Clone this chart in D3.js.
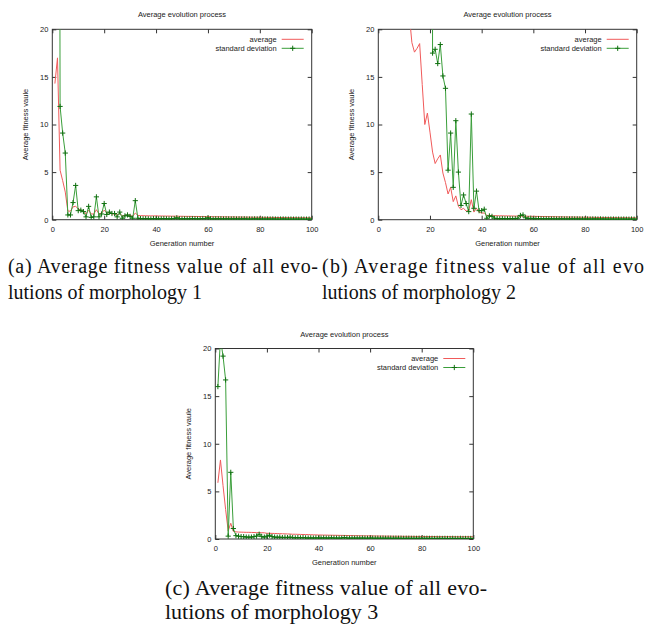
<!DOCTYPE html>
<html>
<head>
<meta charset="utf-8">
<script src="https://cdn.jsdelivr.net/npm/d3@7"></script>
<style>
  body { margin: 0; background: #fff; }
  .tick text, .lbl { font-family: "Liberation Sans", Arial, sans-serif; font-size: 7.5px; fill: #222; }
  .caption { font-family: "Liberation Serif", "Times New Roman", serif; fill: #111; }
</style>
</head>
<body>
<svg id="fig" width="645" height="625"></svg>
<script>
// generation index on the x axis
const generations = d3.range(1, 101);
const xTicks = [0, 20, 40, 60, 80, 100];
const yTicks = [0, 5, 10, 15, 20];
const seriesNames = ["average", "standard deviation"];

// morphology 1 (values above 20 are clipped by the plot frame)
const avgM1 = [
  14.3, 17.0, 5.2, 4.1, 2.9, 0.9, 0.9, 1.35, 1.4, 1.15,
  1.0, 0.95, 0.6, 1.0, 0.6, 0.6, 1.05, 0.6, 0.7, 1.0,
  0.7, 0.75, 0.6, 0.6, 0.5, 0.65, 0.4, 0.45, 0.5, 0.45,
  0.35, 0.7, 0.45, 0.42, 0.42, 0.41, 0.41, 0.4, 0.4, 0.4,
  0.39, 0.39, 0.38, 0.38, 0.38, 0.37, 0.37, 0.37, 0.36, 0.36,
  0.35, 0.35, 0.35, 0.34, 0.34, 0.34, 0.33, 0.33, 0.33, 0.32,
  0.32, 0.31, 0.31, 0.31, 0.3, 0.3, 0.3, 0.29, 0.29, 0.29,
  0.28, 0.28, 0.28, 0.27, 0.27, 0.27, 0.26, 0.26, 0.26, 0.25,
  0.25, 0.25, 0.24, 0.24, 0.24, 0.23, 0.23, 0.23, 0.23, 0.22,
  0.22, 0.22, 0.22, 0.21, 0.21, 0.21, 0.21, 0.2, 0.2, 0.2
];
const sdM1 = [
  120, 160, 11.9, 9.1, 7.0, 0.5, 0.5, 1.8, 3.6, 0.95,
  1.0, 0.85, 0.3, 1.4, 0.25, 0.3, 2.4, 0.3, 0.6, 1.7,
  0.55, 0.8, 0.65, 0.65, 0.3, 0.8, 0.15, 0.4, 0.5, 0.35,
  0.15, 2.0, 0.15, 0.12, 0.1, 0.12, 0.1, 0.08, 0.12, 0.1,
  0.09, 0.1, 0.12, 0.1, 0.08, 0.1, 0.12, 0.2, 0.1, 0.08,
  0.1, 0.09, 0.1, 0.12, 0.1, 0.08, 0.1, 0.12, 0.1, 0.2,
  0.1, 0.08, 0.1, 0.09, 0.1, 0.08, 0.1, 0.09, 0.08, 0.1,
  0.08, 0.09, 0.08, 0.1, 0.08, 0.07, 0.08, 0.09, 0.08, 0.07,
  0.08, 0.07, 0.08, 0.07, 0.08, 0.07, 0.06, 0.07, 0.08, 0.07,
  0.06, 0.07, 0.06, 0.07, 0.06, 0.07, 0.06, 0.06, 0.07, 0.06
];

// morphology 2
const avgM2 = [
  60, 55, 50, 46, 42, 39, 36, 33, 30, 27,
  24, 21.5, 18.6, 17.6, 18.0, 18.5, 14.2, 10.0, 11.2, 9.2,
  7.1, 5.9, 6.4, 6.8, 4.9, 3.9, 2.7, 3.4, 1.9, 2.5,
  1.4, 1.05, 1.2, 0.9, 1.0, 2.1, 0.8, 1.2, 0.8, 0.7,
  0.7, 0.45, 0.45, 0.43, 0.42, 0.42, 0.41, 0.41, 0.4, 0.4,
  0.39, 0.39, 0.38, 0.38, 0.38, 0.37, 0.37, 0.36, 0.36, 0.35,
  0.35, 0.34, 0.34, 0.33, 0.33, 0.32, 0.32, 0.31, 0.31, 0.3,
  0.3, 0.29, 0.29, 0.28, 0.28, 0.28, 0.27, 0.27, 0.26, 0.26,
  0.26, 0.25, 0.25, 0.24, 0.24, 0.24, 0.23, 0.23, 0.23, 0.22,
  0.22, 0.22, 0.21, 0.21, 0.21, 0.21, 0.2, 0.2, 0.2, 0.2
];
const sdM2 = [
  150, 150, 145, 140, 140, 135, 130, 130, 125, 120,
  120, 115, 110, 110, 105, 100, 100, 95, 90, 200,
  17.5, 17.9, 16.4, 18.4, 15.1, 13.8, 5.2, 9.1, 3.4, 10.4,
  5.0, 1.5, 2.6, 1.7, 0.85, 11.1, 1.2, 3.0, 0.95, 0.95,
  1.1, 0.15, 0.4, 0.35, 0.15, 0.12, 0.1, 0.12, 0.1, 0.1,
  0.12, 0.1, 0.12, 0.15, 0.45, 0.5, 0.2, 0.12, 0.15, 0.1,
  0.1, 0.12, 0.1, 0.09, 0.1, 0.1, 0.09, 0.1, 0.08, 0.09,
  0.1, 0.08, 0.09, 0.08, 0.1, 0.08, 0.09, 0.08, 0.08, 0.07,
  0.08, 0.07, 0.08, 0.08, 0.07, 0.08, 0.07, 0.07, 0.06, 0.07,
  0.07, 0.06, 0.07, 0.06, 0.07, 0.06, 0.06, 0.07, 0.06, 0.06
];

// morphology 3
const avgM3 = [
  5.9, 8.3, 5.6, 3.1, 0.85, 1.65, 0.8, 0.75, 0.73, 0.72,
  0.71, 0.7, 0.7, 0.69, 0.68, 0.67, 0.67, 0.66, 0.65, 0.6,
  0.6, 0.59, 0.58, 0.57, 0.56, 0.55, 0.54, 0.53, 0.52, 0.5,
  0.5, 0.49, 0.48, 0.47, 0.47, 0.46, 0.45, 0.44, 0.43, 0.42,
  0.42, 0.41, 0.41, 0.4, 0.4, 0.39, 0.39, 0.38, 0.38, 0.37,
  0.37, 0.36, 0.36, 0.35, 0.35, 0.34, 0.34, 0.33, 0.33, 0.33,
  0.32, 0.32, 0.31, 0.31, 0.31, 0.3, 0.3, 0.3, 0.29, 0.29,
  0.29, 0.29, 0.28, 0.28, 0.28, 0.28, 0.27, 0.27, 0.27, 0.27,
  0.26, 0.26, 0.26, 0.26, 0.26, 0.25, 0.25, 0.25, 0.25, 0.25,
  0.25, 0.25, 0.24, 0.24, 0.24, 0.24, 0.24, 0.24, 0.24, 0.24
];
const sdM3 = [
  16.0, 21.0, 19.2, 16.7, 0.3, 7.0, 1.1, 0.35, 0.3, 0.25,
  0.25, 0.2, 0.2, 0.2, 0.25, 0.3, 0.5, 0.25, 0.2, 0.3,
  0.4, 0.25, 0.2, 0.18, 0.2, 0.15, 0.18, 0.15, 0.2, 0.15,
  0.12, 0.15, 0.12, 0.15, 0.12, 0.1, 0.12, 0.1, 0.12, 0.1,
  0.1, 0.12, 0.1, 0.1, 0.12, 0.1, 0.1, 0.09, 0.1, 0.15,
  0.1, 0.09, 0.1, 0.09, 0.1, 0.09, 0.1, 0.09, 0.08, 0.1,
  0.09, 0.08, 0.09, 0.08, 0.09, 0.08, 0.09, 0.08, 0.08, 0.09,
  0.08, 0.08, 0.07, 0.08, 0.08, 0.07, 0.08, 0.07, 0.08, 0.07,
  0.07, 0.08, 0.07, 0.07, 0.06, 0.07, 0.07, 0.06, 0.07, 0.06,
  0.06, 0.07, 0.06, 0.06, 0.07, 0.06, 0.06, 0.06, 0.06, 0.06
];

var fig = {
    avgColor: "#f05a5a",
    sdColor: "#3a9e3a",
    markColor: "#107010",
    cross: "M-2.6,0H2.6M0,-2.6V2.6",

    panel: function(svg, box, avg, sd) {
        let x = d3.scaleLinear().domain([0, 100]).range([box.left, box.right]);
        let y = d3.scaleLinear().domain([0, 20]).range([box.bottom, box.top]);
        let g = svg.append("g");

        // title and axis labels
        g.append("text").attr("class", "lbl")
            .attr("x", (box.left + box.right) / 2).attr("y", box.top - 12)
            .attr("text-anchor", "middle").text("Average evolution process");
        g.append("text").attr("class", "lbl")
            .attr("x", (box.left + box.right) / 2).attr("y", box.bottom + 26)
            .attr("text-anchor", "middle").text("Generation number");
        g.append("text").attr("class", "lbl")
            .attr("transform", "translate(" + (box.left - 24) + "," + ((box.top + box.bottom) / 2) + ") rotate(-90)")
            .attr("text-anchor", "middle").text("Average fitness vaule");

        // gnuplot style ticks: inward and mirrored
        let axes = [
            [d3.axisBottom(x).tickValues(xTicks), "translate(0," + box.bottom + ")", 6.5],
            [d3.axisTop(x).tickValues(xTicks).tickFormat(""), "translate(0," + box.top + ")", 0],
            [d3.axisLeft(y).tickValues(yTicks), "translate(" + box.left + ",0)", 4],
            [d3.axisRight(y).tickValues(yTicks).tickFormat(""), "translate(" + box.right + ",0)", 0]
        ];
        axes.forEach(function(a) {
            let ag = g.append("g").attr("transform", a[1])
                .call(a[0].tickSize(-4).tickPadding(a[2]));
            ag.select(".domain").remove();
            ag.selectAll("line").attr("stroke", "#333");
        });

        g.append("rect")
            .attr("x", box.left).attr("y", box.top)
            .attr("width", box.right - box.left).attr("height", box.bottom - box.top)
            .attr("fill", "none").attr("stroke", "#333").attr("stroke-width", 1);

        let clipId = "clip-" + box.id;
        svg.append("clipPath").attr("id", clipId).append("rect")
            .attr("x", box.left).attr("y", box.top)
            .attr("width", box.right - box.left).attr("height", box.bottom - box.top);

        let line = d3.line()
            .x(function(d, i) { return x(generations[i]); })
            .y(function(d) { return y(d); });
        let plot = g.append("g").attr("clip-path", "url(#" + clipId + ")");
        plot.append("path").datum(avg)
            .attr("fill", "none").attr("stroke", this.avgColor)
            .attr("stroke-width", 1).attr("d", line);
        plot.append("path").datum(sd)
            .attr("fill", "none").attr("stroke", this.sdColor)
            .attr("stroke-width", 1).attr("d", line);
        plot.selectAll(".pt").data(sd.map(function(v, i) { return [generations[i], v]; })
                .filter(function(d) { return d[1] <= 20; }))
            .enter().append("path")
            .attr("class", "pt")
            .attr("transform", function(d) { return "translate(" + x(d[0]) + "," + y(d[1]) + ")"; })
            .attr("d", this.cross)
            .attr("stroke", this.markColor).attr("stroke-width", 1);

        // key, top right
        let keyY = [box.top + 10, box.top + 19];
        let colors = [this.avgColor, this.sdColor];
        for (let k = 0; k < 2; ++k) {
            g.append("text").attr("class", "lbl")
                .attr("x", box.right - 35).attr("y", keyY[k]).attr("dy", "0.35em")
                .attr("text-anchor", "end").text(seriesNames[k]);
            g.append("line")
                .attr("x1", box.right - 30).attr("x2", box.right - 8)
                .attr("y1", keyY[k]).attr("y2", keyY[k])
                .attr("stroke", colors[k]).attr("stroke-width", 1);
        }
        g.append("path")
            .attr("transform", "translate(" + (box.right - 19) + "," + keyY[1] + ")")
            .attr("d", this.cross)
            .attr("stroke", this.markColor).attr("stroke-width", 1);
    },

    caption: function(svg, xPos, yPos, size, gap, lines, width) {
        lines.forEach(function(s, i) {
            let t = svg.append("text").attr("class", "caption")
                .attr("x", xPos).attr("y", yPos + i * gap)
                .attr("font-size", size + "px").text(s);
            if (i === 0 && width)
                t.attr("textLength", width).attr("lengthAdjust", "spacing");
        });
    }
};

const svg = d3.select("#fig");
svg.append("rect").attr("width", 645).attr("height", 625).attr("fill", "#fff");

fig.panel(svg, {id: "a", left: 52.3, right: 311.7, top: 29.3, bottom: 219.7}, avgM1, sdM1);
fig.panel(svg, {id: "b", left: 378.3, right: 636.7, top: 29.3, bottom: 219.7}, avgM2, sdM2);
fig.panel(svg, {id: "c", left: 215.3, right: 473.3, top: 348.5, bottom: 539}, avgM3, sdM3);

fig.caption(svg, 8, 273, 20, 26, ["(a) Average fitness value of all evo-", "lutions of morphology 1"], 310);
fig.caption(svg, 322, 273, 20, 26, ["(b) Average fitness value of all evo-", "lutions of morphology 2"], 330);
fig.caption(svg, 165, 595, 22, 24, ["(c) Average fitness value of all evo-", "lutions of morphology 3"], 322);
</script>
</body>
</html>
